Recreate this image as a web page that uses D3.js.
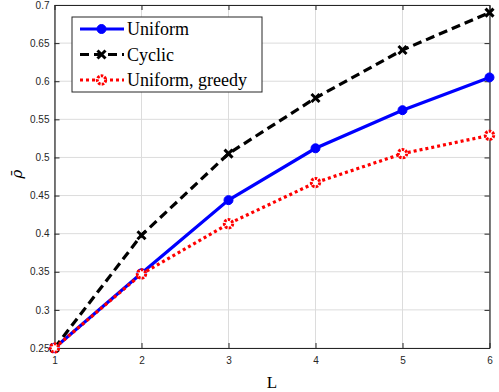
<!DOCTYPE html>
<html>
<head>
<meta charset="utf-8">
<script src="https://cdn.jsdelivr.net/npm/d3@7"></script>
<style>
  body { margin: 0; background: #fff; }
</style>
</head>
<body>
<script>
// data
let Lvals = [1, 2, 3, 4, 5, 6];
let uniform = [0.25, 0.348, 0.444, 0.512, 0.562, 0.605];
let cyclic = [0.25, 0.398, 0.505, 0.578, 0.641, 0.690];
let greedy = [0.25, 0.347, 0.413, 0.467, 0.505, 0.529];
let yTicks = [0.25, 0.3, 0.35, 0.4, 0.45, 0.5, 0.55, 0.6, 0.65, 0.7];
let names = ['Uniform', 'Cyclic', 'Uniform, greedy'];

let width = 499, height = 392;
let margin = { top: 5, bottom: 44, left: 54.5, right: 9.5 };

let svg = d3.select('body').append('svg')
  .attr('width', width)
  .attr('height', height)
  .style('font-family', 'Liberation Sans, sans-serif');

let xScale = d3.scaleLinear().domain([1, 6]).range([margin.left, width - margin.right]);
let yScale = d3.scaleLinear().domain([0.25, 0.7]).range([height - margin.bottom, margin.top]);

// grid
let grid = svg.append('g');
grid.selectAll('.gx').data(Lvals).enter().append('line')
  .attr('x1', d => xScale(d)).attr('x2', d => xScale(d))
  .attr('y1', yScale(0.25)).attr('y2', yScale(0.7))
  .attr('stroke', '#dcdcdc').attr('stroke-width', 1);
grid.selectAll('.gy').data(yTicks).enter().append('line')
  .attr('y1', d => yScale(d)).attr('y2', d => yScale(d))
  .attr('x1', xScale(1)).attr('x2', xScale(6))
  .attr('stroke', '#dcdcdc').attr('stroke-width', 1);

// axes (ticks pointing inward)
let xAxis = svg.append('g')
  .attr('transform', `translate(0, ${yScale(0.25)})`)
  .call(d3.axisBottom(xScale).tickValues(Lvals).tickSizeInner(-5).tickSizeOuter(0).tickPadding(9)
    .tickFormat(d3.format('d')));
let xTop = svg.append('g')
  .attr('transform', `translate(0, ${yScale(0.7)})`)
  .call(d3.axisTop(xScale).tickValues(Lvals).tickSizeInner(-5).tickSizeOuter(0).tickFormat(''));
let yAxis = svg.append('g')
  .attr('transform', `translate(${xScale(1)}, 0)`)
  .call(d3.axisLeft(yScale).tickValues(yTicks).tickSizeInner(-5).tickSizeOuter(0).tickPadding(5)
    .tickFormat(d => String(+d.toFixed(2))));
let yRight = svg.append('g')
  .attr('transform', `translate(${xScale(6)}, 0)`)
  .call(d3.axisRight(yScale).tickValues(yTicks).tickSizeInner(-5).tickSizeOuter(0).tickFormat(''));

svg.selectAll('.domain').attr('stroke', '#262626').attr('stroke-width', 1.2);
svg.selectAll('.tick line').attr('stroke', '#262626');
svg.selectAll('.tick text').attr('fill', '#262626').style('font-size', '10px');

// labels
svg.append('text')
  .attr('x', xScale(3.5))
  .attr('y', 388)
  .text('L')
  .style('text-anchor', 'middle')
  .style('font-family', 'Liberation Serif, serif')
  .style('font-size', '17px');

svg.append('text')
  .attr('transform', `translate(22, ${yScale(0.478)}) rotate(-90)`)
  .text('\u03C1\u0304')
  .style('text-anchor', 'middle')
  .style('font-family', 'DejaVu Serif, serif')
  .style('font-style', 'italic')
  .style('font-size', '15px');

// series
let line = d3.line()
  .x((d, i) => xScale(Lvals[i]))
  .y(d => yScale(d));

let styles = [
  { color: '#0000ff', dash: null },
  { color: '#000000', dash: '9,5' },
  { color: '#ff0000', dash: '3,3' }
];
let seriesData = [uniform, cyclic, greedy];

function drawMarker(g, k, x, y) {
  if (k === 0) {
    g.append('circle').attr('cx', x).attr('cy', y).attr('r', 4.5)
      .attr('fill', '#0000ff').attr('stroke', '#0000ff').attr('stroke-width', 1);
  } else if (k === 1) {
    let s = 4;
    g.append('path')
      .attr('d', `M${x - s},${y - s}L${x + s},${y + s}M${x - s},${y + s}L${x + s},${y - s}`)
      .attr('stroke', '#000').attr('stroke-width', 3).attr('fill', 'none');
  } else {
    g.append('circle').attr('cx', x).attr('cy', y).attr('r', 4.2)
      .attr('fill', '#fff').attr('stroke', '#ff0000').attr('stroke-width', 3)
      .attr('stroke-dasharray', '2.5,1.2');
  }
}

seriesData.forEach((vals, k) => {
  svg.append('path')
    .datum(vals)
    .attr('d', line)
    .attr('fill', 'none')
    .attr('stroke', styles[k].color)
    .attr('stroke-width', 3.2)
    .attr('stroke-dasharray', styles[k].dash);
  let mg = svg.append('g');
  vals.forEach((v, i) => drawMarker(mg, k, xScale(Lvals[i]), yScale(v)));
});

// legend
let leg = svg.append('g');
leg.append('rect')
  .attr('x', 72).attr('y', 17).attr('width', 190).attr('height', 75)
  .attr('fill', '#fff').attr('stroke', '#262626').attr('stroke-width', 1);
names.forEach((n, k) => {
  let y = 29 + k * 25.5;
  leg.append('line')
    .attr('x1', 80).attr('x2', 124).attr('y1', y).attr('y2', y)
    .attr('stroke', styles[k].color).attr('stroke-width', 3.2)
    .attr('stroke-dasharray', styles[k].dash);
  drawMarker(leg, k, 101.5, y);
  leg.append('text')
    .attr('x', 127).attr('y', y + 6)
    .text(n)
    .style('font-family', 'Liberation Serif, serif')
    .style('font-size', '18px')
    .attr('fill', '#000');
});
</script>
</body>
</html>
